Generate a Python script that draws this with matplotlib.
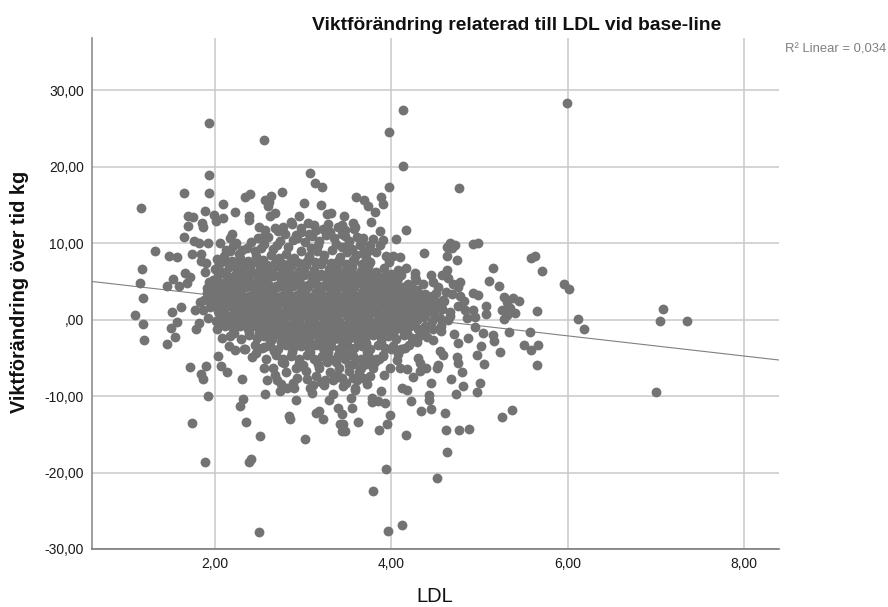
import matplotlib
matplotlib.use("Agg")
import matplotlib.pyplot as plt

plt.rcParams['font.family'] = ['Liberation Sans', 'DejaVu Sans']

# spridda punkter runt molnet (LDL, viktförändring)
outer_ldl = [
    1.93, 2.56, 1.93, 1.93, 1.65, 1.16, 4.13, 3.97, 4.13, 3.97, 4.77, 5.99,
    3.08, 3.13, 3.21, 2.34, 2.40, 2.63, 2.57, 2.76, 2.60, 3.01, 3.20,
    2.09, 2.23, 1.89, 1.69, 1.75, 1.99, 2.01, 2.09, 1.85, 1.86, 1.69, 1.65,
    1.76, 1.82, 1.92, 2.06, 2.17, 2.19, 2.39, 2.39, 2.50, 2.57, 2.54, 2.62, 2.68, 2.61,
    2.68, 2.77, 2.87, 2.95, 3.27, 3.32, 1.32, 1.48, 1.57, 1.74, 1.84, 1.84, 1.90, 1.89,
    1.17, 1.15, 1.18, 1.09, 1.51, 1.61, 1.46, 1.52, 1.66, 1.72, 1.68, 1.59,
    1.93, 1.91, 1.83, 1.77, 1.91, 1.97,
    1.18, 1.20, 1.46, 1.55, 1.50, 1.57, 1.78, 1.82, 1.72, 1.90, 1.84, 1.86,
    1.92, 1.74, 1.89, 2.50, 2.41, 2.39, 2.51, 3.02, 2.35, 2.84, 2.85, 3.18, 3.15, 3.22,
    3.42, 3.44, 3.39, 2.32, 2.28, 2.57, 2.74, 2.82, 2.92, 3.10, 3.11, 3.29, 3.34,
    2.31, 2.07, 2.14, 2.03, 2.23, 2.59, 3.25, 3.39,
    3.96, 4.12, 3.79, 3.94, 4.52, 4.63, 4.17, 3.86, 3.95, 3.98, 3.62, 3.47, 3.45, 3.44,
    3.55, 3.54, 3.78, 3.78, 3.85, 3.93, 3.88, 4.12, 4.18, 4.22, 4.34, 4.45, 4.43, 4.43,
    4.45, 4.61, 4.62, 4.77, 4.88, 4.73, 4.81, 4.68, 4.97, 5.00, 5.25, 5.37, 4.80, 5.05,
    4.76, 4.74, 4.97, 5.02, 5.23, 5.50, 5.58, 5.66, 5.65, 5.33, 5.57, 5.16, 5.15, 4.95,
    5.04, 4.76, 4.87, 6.12, 6.18, 5.28,
    4.30, 4.32, 4.52, 4.53, 4.39, 4.32, 4.24, 4.18, 4.10, 4.06, 3.98, 3.92,
    4.55, 4.59, 3.78, 3.79, 3.76, 3.68, 3.61, 3.59, 3.45,
    3.60, 3.69, 3.73, 3.88, 3.90, 3.81, 3.46, 3.56, 3.59, 3.77, 3.47, 3.44, 3.87, 4.17, 4.05,
    3.61, 3.68, 3.79, 3.90, 3.64, 3.76, 3.87, 3.51, 3.44,
    3.94, 4.02, 4.10, 3.97, 3.75, 3.68, 3.56, 4.37, 4.17, 4.27, 4.28, 4.11,
    4.66, 4.72, 4.63, 4.69, 4.63, 4.74, 4.93, 4.98, 4.63, 4.57, 4.64, 4.47, 4.78, 4.76,
    5.15, 5.11, 5.22, 5.58, 5.63, 5.71, 5.96, 6.01, 5.65,
    4.92, 4.98, 4.82, 5.07, 5.07, 5.28, 5.31, 5.38, 5.45, 5.25, 5.34, 5.40, 5.31, 4.83, 4.93, 4.95,
    7.35, 7.08, 7.05, 7.00,
]
outer_vikt = [
    25.7, 23.5, 18.9, 16.5, 16.6, 14.6, 27.4, 24.5, 20.1, 17.3, 17.2, 28.3,
    19.1, 17.8, 17.3, 16.0, 16.4, 16.2, 15.6, 16.7, 14.8, 15.2, 15.0,
    15.1, 14.1, 14.2, 13.5, 13.4, 13.7, 12.9, 13.3, 12.6, 12.1, 12.2, 10.8,
    10.3, 10.0, 10.0, 10.0, 10.6, 11.2, 13.5, 13.0, 12.1, 11.7, 10.8, 13.5, 13.9, 15.3,
    12.0, 12.1, 12.5, 13.5, 13.8, 13.9, 8.95, 8.3, 8.2, 8.6, 8.6, 7.6, 7.4, 6.2,
    6.6, 4.8, 2.8, 0.6, 1.0, 1.6, 4.4, 5.3, 6.1, 5.6, 4.8, 4.4,
    4.9, 4.1, 2.3, 1.2, 3.5, 2.2,
    -0.6, -2.7, -3.2, -2.3, -1.1, -0.3, -1.3, -0.5, -6.2, -6.1, -7.1, -7.8,
    -10.0, -13.5, -18.6, -27.8, -18.2, -18.6, -15.2, -15.6, -13.4, -12.6, -13.0, -12.0, -12.2, -13.0,
    -13.7, -14.6, -11.6, -10.4, -11.3, -9.8, -9.3, -9.0, -10.5, -9.6, -8.6, -10.5, -9.7,
    -7.8, -6.1, -6.9, -4.8, -4.0, -7.9, -7.9, -7.5,
    -27.7, -26.9, -22.4, -19.5, -20.7, -17.3, -15.1, -14.4, -13.7, -12.5, -13.4, -14.6, -13.7, -12.4,
    -11.6, -10.3, -10.3, -10.8, -10.7, -10.9, -9.4, -9.0, -9.2, -10.7, -12.0, -11.7, -9.9, -10.5,
    -8.3, -12.2, -14.4, -14.4, -14.3, -9.7, -8.7, -7.8, -9.5, -8.3, -12.7, -11.8, -6.9, -5.8,
    -5.7, -4.9, -4.6, -3.5, -4.3, -3.3, -4.0, -3.3, -5.9, -1.6, -1.6, -2.8, -2.0, -1.0,
    -1.8, -3.1, -2.4, 0.1, -1.2, 0.1,
    -5.0, -5.7, -6.3, -6.0, -6.3, -6.7, -7.5, -6.5, -6.3, -5.3, -6.3, -7.3,
    -4.1, -4.6, -5.3, -6.3, -7.4, -7.6, -7.9, -9.2, -8.7,
    16.0, 15.6, 14.8, 16.0, 15.1, 14.0, 13.5, 12.6, 12.1, 12.7, 11.7, 12.3, 11.6, 11.7, 10.5,
    10.8, 10.7, 10.5, 10.4, 9.7, 9.7, 9.7, 9.7, 9.5,
    8.3, 8.3, 8.2, 7.5, 7.4, 8.7, 7.8, 8.7, 6.7, 6.1, 5.2, 5.8,
    10.0, 9.7, 9.5, 9.3, 8.3, 7.8, 9.9, 10.0, 6.5, 5.8, 5.4, 4.9, 4.9, 4.2,
    6.7, 5.0, 4.4, 8.0, 8.3, 6.3, 4.6, 4.0, 1.1,
    3.5, 3.2, 2.4, 1.8, 0.7, 2.9, 2.3, 2.8, 2.4, 1.2, 1.5, 0.8, 0.6, 1.2, 1.2, 0.3,
    -0.2, 1.4, -0.2, -9.5,
]

# täta molnet, ungefärliga värden eftersom punkterna ligger ovanpå varandra
core_ldl = [
    2.12, 2.20, 2.27, 2.36, 2.45, 2.55, 2.66, 2.74, 2.83, 2.93,
    3.02, 3.10, 3.18, 3.26, 3.35, 3.44, 3.52, 2.98, 3.14, 3.30,
    2.02, 2.10, 2.19, 2.28, 2.37, 2.46, 2.54, 2.63, 2.72, 2.81,
    2.90, 2.98, 3.07, 3.16, 3.24, 3.33, 3.42, 3.50, 3.60, 3.70,
    2.00, 2.08, 2.16, 2.25, 2.33, 2.42, 2.51, 2.60, 2.69, 2.77,
    2.86, 2.95, 3.03, 3.12, 3.20, 3.29, 3.38, 3.47, 3.55, 3.65,
    3.74, 3.83, 3.92, 4.00, 4.08, 1.98, 2.06, 2.14, 2.23, 2.31,
    2.40, 2.49, 2.57, 2.66, 2.75, 2.84, 2.92, 3.01, 3.10, 3.19,
    3.27, 3.36, 3.45, 3.54, 3.62, 3.71, 3.80, 3.89, 3.97, 4.06,
    1.92, 2.00, 2.09, 2.18, 2.27, 2.35, 2.44, 2.53, 2.62, 2.70,
    2.79, 2.88, 2.97, 3.05, 3.14, 3.23, 3.32, 3.40, 3.49, 3.58,
    3.67, 3.76, 3.84, 3.93, 4.02, 4.11, 4.20, 4.29, 4.38, 1.87,
    1.95, 2.04, 2.13, 2.22, 2.31, 2.39, 2.48, 2.57, 2.66, 2.74,
    2.83, 2.92, 3.01, 3.09, 3.18, 3.27, 3.36, 3.44, 3.53, 3.62,
    3.71, 3.79, 3.88, 3.97, 4.06, 4.14, 4.23, 4.32, 4.41, 4.50,
    4.58, 1.86, 1.94, 2.03, 2.12, 2.21, 2.29, 2.38, 2.47, 2.56,
    2.64, 2.73, 2.82, 2.91, 2.99, 3.08, 3.17, 3.26, 3.34, 3.43,
    3.52, 3.61, 3.69, 3.78, 3.87, 3.96, 4.04, 4.13, 4.22, 4.31,
    4.39, 4.48, 4.57, 4.66, 1.92, 2.01, 2.10, 2.19, 2.27, 2.36,
    2.45, 2.54, 2.62, 2.71, 2.80, 2.89, 2.97, 3.06, 3.15, 3.24,
    3.32, 3.41, 3.50, 3.59, 3.67, 3.76, 3.85, 3.94, 4.02, 4.11,
    4.20, 4.29, 4.37, 4.46, 4.55, 4.64, 2.02, 2.11, 2.20, 2.28,
    2.37, 2.46, 2.55, 2.63, 2.72, 2.81, 2.90, 2.98, 3.07, 3.16,
    3.25, 3.33, 3.42, 3.51, 3.60, 3.68, 3.77, 3.86, 3.95, 4.03,
    4.12, 4.21, 4.30, 4.38, 4.47, 4.56, 2.08, 2.17, 2.30, 2.39,
    2.48, 2.56, 2.65, 2.74, 2.83, 2.91, 3.00, 3.09, 3.18, 3.26,
    3.35, 3.44, 3.53, 3.61, 3.70, 3.79, 3.88, 3.96, 4.05, 4.14,
    4.23, 4.31, 4.40, 2.16, 2.33, 2.45, 2.53, 2.62, 2.71, 2.80,
    2.88, 2.97, 3.06, 3.15, 3.23, 3.32, 3.41, 3.50, 3.58, 3.67,
    3.76, 3.85, 3.93, 4.02, 4.11, 4.20, 2.42, 2.58, 2.69, 2.77,
    2.86, 2.95, 3.04, 3.12, 3.21, 3.30, 3.39, 3.47, 3.56, 3.65,
    3.74, 3.82, 3.91, 2.66, 2.80, 2.92, 3.03, 3.18, 3.30, 3.41,
    3.52, 3.66, 2.70, 2.88, 3.04, 3.20, 3.34, 3.48, 3.56,
]
core_vikt = [
    9.1, 9.6, 8.6, 9.4, 8.9, 9.9, 9.2, 10.3, 9.5, 10.6,
    10.1, 10.9, 10.3, 11.1, 10.6, 11.2, 10.2, 11.4, 11.7, 11.5,
    7.9, 8.3, 7.6, 8.1, 7.7, 8.3, 7.8, 8.4, 8.0, 8.6,
    8.1, 8.9, 8.3, 9.0, 8.4, 9.1, 8.2, 8.8, 8.4, 8.9,
    6.6, 6.2, 6.9, 6.3, 6.8, 6.2, 6.9, 6.4, 7.0, 6.5,
    7.0, 6.4, 7.1, 6.5, 7.2, 6.6, 7.0, 6.4, 6.9, 6.3,
    6.8, 6.2, 6.7, 5.9, 6.5, 5.2, 4.8, 5.4, 5.0, 5.6,
    4.9, 5.5, 5.1, 5.7, 5.0, 5.6, 5.2, 5.8, 5.1, 5.7,
    5.0, 5.6, 5.1, 5.5, 4.9, 5.4, 5.0, 5.3, 4.8, 5.2,
    3.7, 4.1, 3.6, 4.2, 3.7, 4.3, 3.8, 4.2, 3.6, 4.3,
    3.8, 4.4, 3.7, 4.2, 3.6, 4.3, 3.8, 4.2, 3.7, 4.3,
    3.6, 4.1, 3.7, 4.2, 3.5, 4.0, 3.6, 3.9, 3.4, 2.6,
    2.9, 2.4, 3.0, 2.5, 2.9, 2.4, 3.0, 2.5, 2.9, 2.3,
    3.0, 2.5, 2.9, 2.4, 3.0, 2.5, 2.9, 2.4, 3.0, 2.5,
    2.9, 2.4, 3.0, 2.5, 2.8, 2.3, 2.9, 2.4, 2.7, 2.3,
    2.6, 1.2, 1.6, 1.1, 1.7, 1.2, 1.6, 1.1, 1.7, 1.2,
    1.6, 1.1, 1.7, 1.2, 1.6, 1.1, 1.7, 1.2, 1.6, 1.1,
    1.7, 1.2, 1.6, 1.1, 1.7, 1.2, 1.6, 1.1, 1.5, 1.0,
    1.6, 1.1, 1.4, 1.0, 0.2, -0.2, 0.4, -0.1, 0.3, -0.2,
    0.4, -0.1, 0.3, -0.2, 0.4, -0.1, 0.3, -0.2, 0.4, -0.1,
    0.3, -0.2, 0.4, -0.1, 0.3, -0.2, 0.4, -0.1, 0.3, -0.2,
    0.4, -0.1, 0.3, -0.2, 0.2, -0.1, -1.2, -0.9, -1.3, -0.8,
    -1.2, -0.9, -1.4, -0.8, -1.2, -0.9, -1.3, -0.8, -1.2, -0.9,
    -1.4, -0.8, -1.2, -0.9, -1.3, -0.8, -1.2, -0.9, -1.4, -0.8,
    -1.2, -0.9, -1.3, -0.8, -1.2, -0.9, -2.4, -2.1, -2.5, -2.0,
    -2.4, -2.1, -2.5, -2.0, -2.4, -2.1, -2.6, -2.0, -2.4, -2.1,
    -2.5, -2.0, -2.4, -2.1, -2.6, -2.0, -2.4, -2.1, -2.5, -2.0,
    -2.4, -2.1, -2.3, -3.5, -3.8, -3.3, -3.7, -3.4, -3.8, -3.3,
    -3.7, -3.4, -3.8, -3.3, -3.7, -3.4, -3.8, -3.3, -3.7, -3.4,
    -3.8, -3.3, -3.7, -3.4, -3.8, -3.3, -4.9, -5.2, -4.7, -5.1,
    -4.8, -5.2, -4.7, -5.1, -4.8, -5.2, -4.7, -5.1, -4.8, -5.2,
    -4.7, -5.1, -4.8, -6.4, -6.8, -6.3, -6.7, -6.4, -6.8, -6.3,
    -6.7, -6.4, -7.9, -8.3, -7.8, -8.2, -7.9, -8.3, -7.7,
]

# fler punkter mellan raderna där molnet är helt täckt
fill_ldl = [
    2.05, 2.14, 2.23, 2.32, 2.41, 2.50, 2.59, 2.68, 2.77, 2.86,
    2.95, 3.04, 3.13, 3.22, 3.31, 3.40, 3.49, 3.58, 3.67, 3.76,
    2.03, 2.12, 2.21, 2.30, 2.39, 2.48, 2.57, 2.66, 2.75, 2.84,
    2.93, 3.02, 3.11, 3.20, 3.29, 3.38, 3.47, 3.56, 3.65, 3.74,
    3.83, 3.92, 4.01, 4.10, 1.97, 2.06, 2.15, 2.24, 2.33, 2.42,
    2.51, 2.60, 2.69, 2.78, 2.87, 2.96, 3.05, 3.14, 3.23, 3.32,
    3.41, 3.50, 3.59, 3.68, 3.77, 3.86, 3.95, 4.04, 4.13, 4.22,
    1.94, 2.03, 2.12, 2.21, 2.30, 2.39, 2.48, 2.57, 2.66, 2.75,
    2.84, 2.93, 3.02, 3.11, 3.20, 3.29, 3.38, 3.47, 3.56, 3.65,
    3.74, 3.83, 3.92, 4.01, 4.10, 4.19, 4.28, 4.37, 4.46, 1.98,
    2.07, 2.16, 2.25, 2.34, 2.43, 2.52, 2.61, 2.70, 2.79, 2.88,
    2.97, 3.06, 3.15, 3.24, 3.33, 3.42, 3.51, 3.60, 3.69, 3.78,
    3.87, 3.96, 4.05, 4.14, 4.23, 4.32, 4.41, 4.50, 2.04, 2.13,
    2.22, 2.31, 2.40, 2.49, 2.58, 2.67, 2.76, 2.85, 2.94, 3.03,
    3.12, 3.21, 3.30, 3.39, 3.48, 3.57, 3.66, 3.75, 3.84, 3.93,
    4.02, 4.11, 4.20, 4.29, 4.38, 2.07, 2.16, 2.25, 2.34, 2.43,
    2.52, 2.61, 2.70, 2.79, 2.88, 2.97, 3.06, 3.15, 3.24, 3.33,
    3.42, 3.51, 3.60, 3.69, 3.78, 3.87, 3.96, 4.05, 4.14, 4.23,
    2.21, 2.38, 2.50, 2.59, 2.68, 2.77, 2.86, 2.95, 3.04, 3.13,
    3.22, 3.31, 3.40, 3.49, 3.58, 3.67, 3.76, 3.85, 3.94, 4.03,
    2.62, 2.75, 2.90, 3.08, 3.17, 3.26, 3.44, 3.62, 3.71, 3.88,
]
fill_vikt = [
    7.2, 7.5, 7.1, 7.4, 7.2, 7.5, 7.1, 7.4, 7.3, 7.6,
    7.4, 7.7, 7.5, 7.8, 7.4, 7.7, 7.3, 7.6, 7.2, 7.5,
    5.8, 6.0, 5.7, 6.0, 5.8, 6.1, 5.8, 6.0, 5.9, 6.1,
    5.9, 6.1, 5.8, 6.0, 5.9, 6.1, 5.7, 6.0, 5.8, 6.0,
    5.9, 5.7, 5.6, 5.9, 4.5, 4.7, 4.4, 4.7, 4.5, 4.8,
    4.5, 4.7, 4.4, 4.7, 4.5, 4.8, 4.5, 4.7, 4.4, 4.7,
    4.5, 4.8, 4.5, 4.7, 4.4, 4.6, 4.3, 4.5, 4.2, 4.4,
    3.3, 3.1, 3.4, 3.2, 3.3, 3.1, 3.4, 3.2, 3.3, 3.1,
    3.4, 3.2, 3.3, 3.1, 3.4, 3.2, 3.3, 3.1, 3.4, 3.2,
    3.3, 3.1, 3.4, 3.2, 3.3, 3.1, 3.2, 3.0, 3.1, 2.0,
    2.2, 1.9, 2.1, 1.9, 2.2, 2.0, 2.1, 1.9, 2.2, 2.0,
    2.1, 1.9, 2.2, 2.0, 2.1, 1.9, 2.2, 2.0, 2.1, 1.9,
    2.2, 2.0, 2.1, 1.9, 2.0, 1.8, 1.9, 1.8, 0.8, 0.6,
    0.9, 0.7, 0.8, 0.6, 0.9, 0.7, 0.8, 0.6, 0.9, 0.7,
    0.8, 0.6, 0.9, 0.7, 0.8, 0.6, 0.9, 0.7, 0.8, 0.6,
    0.9, 0.7, 0.8, 0.6, 0.7, -0.6, -0.4, -0.7, -0.5, -0.6,
    -0.4, -0.7, -0.5, -0.6, -0.4, -0.7, -0.5, -0.6, -0.4, -0.7,
    -0.5, -0.6, -0.4, -0.7, -0.5, -0.6, -0.4, -0.7, -0.5, -0.6,
    -1.7, -1.6, -1.8, -1.5, -1.7, -1.6, -1.8, -1.5, -1.7, -1.6,
    -1.8, -1.5, -1.7, -1.6, -1.8, -1.5, -1.7, -1.6, -1.8, -1.5,
    -2.9, -3.0, -2.8, -3.1, -2.9, -2.8, -3.0, -2.8, -3.1, -2.9,
]

# kanterna av molnet: överkant, underkant och höger sida
edge_ldl = [
    2.17, 2.31, 2.41, 2.52, 2.60, 2.70, 2.79, 2.88, 2.97, 3.06,
    3.12, 3.22, 3.28, 3.39, 3.47, 3.58, 3.67, 3.73, 3.82, 2.24,
    2.49, 2.71, 2.92, 3.05, 3.17, 3.37, 3.55, 3.71, 2.86, 3.09,
    2.34, 2.47, 2.56, 2.67, 2.76, 2.87, 2.95, 3.08, 3.17, 3.28,
    3.37, 3.49, 3.58, 3.72, 3.81, 3.90, 3.99, 4.08, 4.15, 2.55,
    2.68, 2.78, 2.93, 3.00, 3.14, 3.27, 3.38, 3.52, 3.63, 3.71,
    3.86, 2.75, 2.90, 3.08, 3.24, 3.44, 3.59, 3.72, 2.96, 3.14,
    4.08, 4.19, 4.27, 4.36, 4.45, 4.53, 4.62, 4.70, 4.16, 4.25,
    4.34, 4.42, 4.51, 4.60, 4.69, 4.78, 4.22, 4.31, 4.41, 4.48,
    4.57, 4.66, 4.75, 4.86, 4.18, 4.29, 4.38, 4.47, 4.56, 4.71,
]
edge_vikt = [
    8.9, 9.1, 10.1, 9.4, 10.8, 9.8, 11.2, 10.4, 11.9, 11.2,
    12.3, 11.8, 12.5, 12.1, 10.9, 11.8, 10.1, 9.0, 8.8, 10.0,
    10.6, 11.6, 11.0, 12.6, 9.7, 9.9, 9.2, 8.1, 12.8, 9.3,
    -3.9, -4.4, -3.6, -4.1, -5.5, -4.2, -5.7, -4.3, -5.8, -4.2,
    -5.6, -4.4, -5.8, -4.2, -5.5, -4.6, -3.9, -4.5, -3.7, -6.3,
    -7.3, -5.7, -7.6, -5.9, -7.4, -5.6, -7.2, -5.9, -6.8, -5.8,
    -5.2, -8.4, -9.0, -8.9, -8.6, -7.7, -8.9, -8.4, -6.1, -5.3,
    5.4, 4.6, 5.6, 4.7, 5.8, 4.3, 3.6, 4.6, 3.6, 2.9,
    3.2, 2.0, 3.5, 2.4, 3.3, 3.1, 1.2, 0.6, 1.6, 0.7,
    1.4, 0.5, 1.8, 0.2, -1.8, -2.9, -1.4, -2.7, -1.5, -1.9,
]

x_ticks = [2, 4, 6, 8]
y_ticks = [-30, -20, -10, 0, 10, 20, 30]

# regressionslinjen
fit_intercept = 5.77
fit_slope = -1.318
x_range = [0.605, 8.395]
y_range = [-30, 36.8]

fig = plt.figure(figsize=(8.88, 6.07), dpi=100)
ax = fig.add_axes([92 / 888, 58 / 607, 687 / 888, 511 / 607])

ax.set_xlim(x_range)
ax.set_ylim(y_range)
ax.set_axisbelow(True)
ax.grid(True, color="#c9c9c9", linewidth=1.1)

ax.plot(x_range, [fit_intercept + fit_slope * v for v in x_range], color="#808080", linewidth=0.8, zorder=2)
ax.scatter(outer_ldl + core_ldl + fill_ldl + edge_ldl, outer_vikt + core_vikt + fill_vikt + edge_vikt,
           s=50, color="#737373", linewidths=0, zorder=3)

ax.set_xticks(x_ticks)
ax.set_yticks(y_ticks)
ax.set_xticklabels([f"{v:.2f}".replace(".", ",") for v in x_ticks])
ax.set_yticklabels([f"{v:.2f}".replace(".", ",") if v != 0 else ",00" for v in y_ticks])
ax.tick_params(length=0, labelsize=10, colors="#1a1a1a", pad=6)

for side in ["top", "right"]:
    ax.spines[side].set_visible(False)
ax.spines["left"].set_color("#8c8c8c")
ax.spines["bottom"].set_color("#7a7a7a")
ax.spines["left"].set_linewidth(1.2)
ax.spines["bottom"].set_linewidth(1.2)

fig.text(517 / 888, 1 - 25 / 607, "Viktförändring relaterad till LDL vid base-line",
         ha="center", va="center", fontsize=13.9, fontweight="bold", color="#111111")
fig.text(435 / 888, 1 - 596 / 607, "LDL", ha="center", va="center", fontsize=14.5, color="#111111")
fig.text(20 / 888, 1 - 292 / 607, "Viktförändring över tid kg", ha="center", va="center",
         rotation=90, fontsize=14.3, fontweight="bold", color="#111111")
fig.text(785 / 888, 1 - 50 / 607, "R² Linear = 0,034", ha="left", va="center", fontsize=9.4, color="#808080")

fig.savefig("out.png", dpi=100)
